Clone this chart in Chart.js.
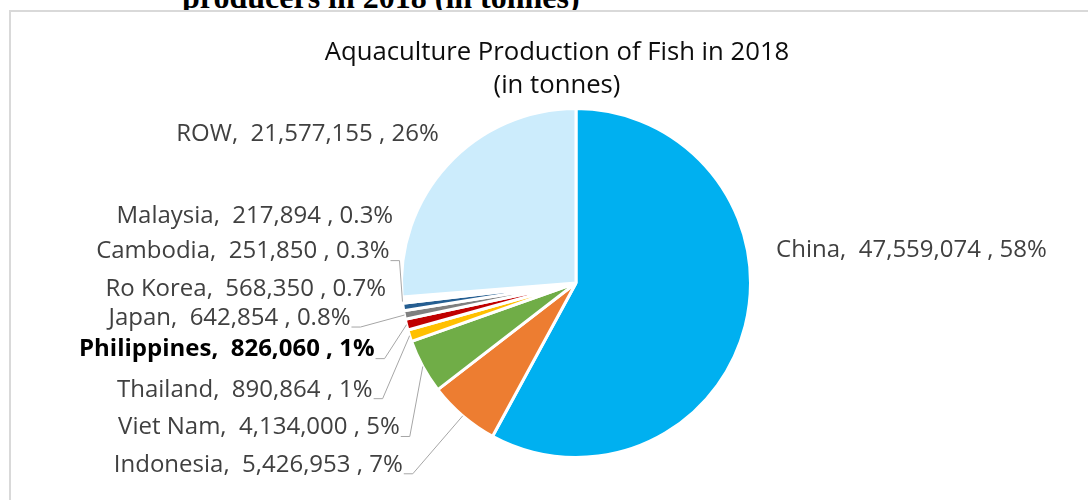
<!DOCTYPE html>
<html>
<head>
<meta charset="utf-8">
<script src="https://cdn.jsdelivr.net/npm/chart.js@4"></script>
<style>
  body { margin: 0; width: 1088px; height: 500px; overflow: hidden; background: #fff; position: relative; }
  #caption { position: absolute; left: 182px; top: -19px; font: bold 32px 'Liberation Serif'; line-height: 32px; white-space: nowrap; color: #000; }
  #frame { position: absolute; left: 9px; top: 10px; width: 1100px; height: 520px; border: 2px solid #D9D9D9; background: #fff; }
  #title { position: absolute; left: 0; width: 1114px; top: 33.5px; text-align: center; font: 25.7px 'Open Sans'; line-height: 33px; color: #0d0d0d; }
  #chart { position: absolute; left: 0; top: 0; }
</style>
</head>
<body>
<div id="caption">producers in 2018 (in tonnes)</div>
<div id="frame"></div>
<canvas id="chart" width="1088" height="500"></canvas>
<div id="title">Aquaculture Production of Fish in 2018<br>(in tonnes)</div>
<script>
const countries = ['China', 'Indonesia', 'Viet Nam', 'Thailand', 'Philippines', 'Japan', 'Ro Korea', 'Cambodia', 'Malaysia', 'ROW'];
const tonnes = [47559074, 5426953, 4134000, 890864, 826060, 642854, 568350, 251850, 217894, 21577155];
const sliceColors = ['#00B0F0', '#ED7D31', '#70AD47', '#FFC000', '#C00000', '#7F7F7F', '#255E91', '#F2F2F2', '#F2F2F2', '#CCECFC'];

// label placement relative to the outer edge of each slice (dx to text end, dy to text middle)
const labelOffsets = [[31, -76], [-60, 49], [-23, 61], [-37, 54], [-32, 25], [-54, 3], [-17, -18], [-13, -50], [-9, -82], [-9, -31]];
const withLeader = [false, true, true, true, true, true, false, true, false, false];

const ctx = document.getElementById('chart');

const pieLabels = {
    id: 'pieLabels',
    afterDatasetsDraw(chart) {
        const c = chart.ctx;
        const total = tonnes.reduce((a, b) => a + b, 0);
        const meta = chart.getDatasetMeta(0);
        meta.data.forEach((arc, i) => {
            const p = arc.getProps(['x', 'y', 'startAngle', 'endAngle', 'outerRadius'], true);
            const mid = (p.startAngle + p.endAngle) / 2;
            const ax = p.x + Math.cos(mid) * p.outerRadius;
            const ay = p.y + Math.sin(mid) * p.outerRadius;
            const pct = tonnes[i] / total * 100;
            const pctText = pct < 1 ? pct.toFixed(1) + '%' : Math.round(pct) + '%';
            const text = countries[i] + ',  ' + tonnes[i].toLocaleString('en-US') + ' , ' + pctText;
            const tx = ax + labelOffsets[i][0];
            const ty = ay + labelOffsets[i][1];
            const leftSide = Math.cos(mid) < 0;

            c.save();
            c.font = (countries[i] === 'Philippines' ? 'bold ' : '') + '24px "Open Sans"';
            c.fillStyle = countries[i] === 'Philippines' ? '#000000' : '#404040';
            c.textAlign = leftSide ? 'right' : 'left';
            c.textBaseline = 'middle';
            c.fillText(text, tx, ty);

            if (withLeader[i]) {
                c.strokeStyle = '#A6A6A6';
                c.lineWidth = 1;
                c.beginPath();
                c.moveTo(ax, ay);
                c.lineTo(tx + 10, ty + 9);
                c.lineTo(tx + 1, ty + 9);
                c.stroke();
            }
            c.restore();
        });
    }
};

new Chart(ctx, {
    type: 'pie',
    data: {
        labels: countries,
        datasets: [{
            data: tonnes,
            backgroundColor: sliceColors,
            borderColor: '#FFFFFF',
            borderWidth: 3
        }]
    },
    options: {
        responsive: false,
        animation: false,
        layout: {
            padding: { top: 107, bottom: 41, left: 200, right: 136 }
        },
        plugins: {
            legend: { display: false },
            tooltip: { enabled: false }
        }
    },
    plugins: [pieLabels]
});
</script>
</body>
</html>
